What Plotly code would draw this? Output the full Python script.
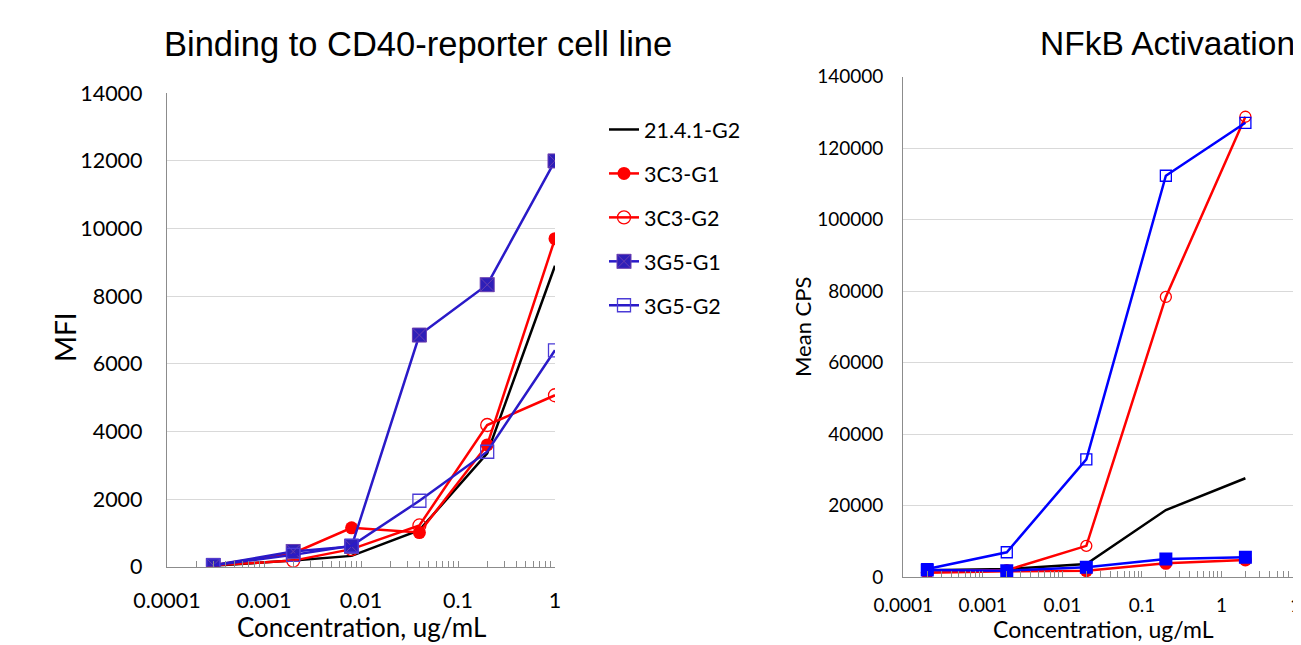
import plotly.graph_objects as go

# ---------------- data ----------------
# Left: Binding to CD40-reporter cell line (MFI)
conc_bind = [0.0003, 0.002, 0.008, 0.04, 0.2, 1]
bind_21_4_1_G2 = [30, 180, 320, 1080, 3350, 8900]
bind_3C3_G1 = [40, 400, 1150, 1010, 3600, 9700]
bind_3C3_G2 = [40, 180, 520, 1220, 4190, 5070]
bind_3G5_G1 = [40, 450, 600, 6850, 8340, 12000]
bind_3G5_G2 = [40, 350, 620, 1950, 3400, 6400]

# Right: NFkB Activaation (Mean CPS)
conc_nfkb = [0.0002, 0.002, 0.02, 0.2, 2]
nfkb_21_4_1_G2 = [2000, 2300, 3700, 18800, 27700]
nfkb_3C3_G1 = [1300, 1700, 1850, 3900, 4850]
nfkb_3C3_G2 = [2000, 2000, 8800, 78400, 128800]
nfkb_3G5_G1 = [2050, 1850, 2800, 5100, 5600]
nfkb_3G5_G2 = [2300, 7000, 33000, 112300, 127100]

series_names = ["21.4.1-G2", "3C3-G1", "3C3-G2", "3G5-G1", "3G5-G2"]

x_tickvals = [0.0001, 0.001, 0.01, 0.1, 1, 10]
x_ticktext = ["0.0001", "0.001", "0.01", "0.1", "1", "10"]
y1_tickvals = [0, 2000, 4000, 6000, 8000, 10000, 12000, 14000]
y1_ticktext = ["0", "2000", "4000", "6000", "8000", "10000", "12000", "14000"]
y2_tickvals = [0, 20000, 40000, 60000, 80000, 100000, 120000, 140000]
y2_ticktext = ["0", "20000", "40000", "60000", "80000", "100000", "120000", "140000"]

# ---------------- styles ----------------
# page body has an 8px margin: figure pixel = screen pixel - 8
W, H = 1293, 637
OFF = 8
RED = "#FF0000"
DBLUE = "#2A1AC8"
BLUE = "#0000FF"
BLACK = "#000000"
AXCOL = "#8C8C8C"
GRIDCOL = "#D9D9D9"

def px_x(sx):
    return (sx - OFF) / W

def px_y(sy):
    return (H - (sy - OFF)) / H

minor_vals = [m * 10 ** e for e in range(-4, 1) for m in range(2, 10)]

fig = go.Figure()

left_styles = [
    dict(mode="lines", line=dict(color=BLACK, width=2.5)),
    dict(mode="lines+markers", line=dict(color=RED, width=2.5),
         marker=dict(symbol="circle", size=13, color=RED)),
    dict(mode="lines+markers", line=dict(color=RED, width=2.5),
         marker=dict(symbol="circle-open", size=13, color=RED, line=dict(width=1.3))),
    dict(mode="lines+markers", line=dict(color=DBLUE, width=2.5),
         marker=dict(symbol="square-x", size=14, color="#2E1FB8",
                     line=dict(color="#6A3FB0", width=1))),
    dict(mode="lines+markers", line=dict(color=DBLUE, width=2.5),
         marker=dict(symbol="square-open", size=13, color="#4B3BD6", line=dict(width=1.3))),
]
left_data = [bind_21_4_1_G2, bind_3C3_G1, bind_3C3_G2, bind_3G5_G1, bind_3G5_G2]

for name, ys, st in zip(series_names, left_data, left_styles):
    fig.add_trace(go.Scatter(x=conc_bind, y=ys, name=name, xaxis="x", yaxis="y",
                             legendgroup=name, showlegend=True, **st))

right_styles = [
    dict(mode="lines", line=dict(color=BLACK, width=2.5)),
    dict(mode="lines+markers", line=dict(color=RED, width=2.5),
         marker=dict(symbol="circle", size=13, color=RED)),
    dict(mode="lines+markers", line=dict(color=RED, width=2.5),
         marker=dict(symbol="circle-open", size=11, color=RED, line=dict(width=1.3))),
    dict(mode="lines+markers", line=dict(color=BLUE, width=2.5),
         marker=dict(symbol="square", size=13, color=BLUE)),
    dict(mode="lines+markers", line=dict(color=BLUE, width=2.5),
         marker=dict(symbol="square-open", size=11, color=BLUE, line=dict(width=1.3))),
]
right_data = [nfkb_21_4_1_G2, nfkb_3C3_G1, nfkb_3C3_G2, nfkb_3G5_G1, nfkb_3G5_G2]
for name, ys, st in zip(series_names, right_data, right_styles):
    fig.add_trace(go.Scatter(x=conc_nfkb, y=ys, name=name, xaxis="x2", yaxis="y2",
                             legendgroup=name, showlegend=False, **st))

def xaxis(domain, rng, anchor, fsize, standoff):
    return dict(type="log", domain=domain, range=rng, anchor=anchor, automargin=False,
                showgrid=False, zeroline=False,
                showline=True, linecolor=AXCOL, linewidth=1.3,
                tickmode="array", tickvals=x_tickvals, ticktext=x_ticktext,
                ticks="inside", ticklen=6, tickcolor=AXCOL, tickwidth=1,
                tickfont=dict(family="Lato", size=fsize, color="#000000"),
                ticklabelstandoff=standoff, ticklabeloverflow="allow",
                minor=dict(tickmode="array", tickvals=minor_vals, ticks="inside",
                           ticklen=6, tickcolor=AXCOL, tickwidth=1, showgrid=False))

def yaxis(domain, rng, tv, tt, anchor, fsize, standoff):
    return dict(domain=domain, range=rng, anchor=anchor, automargin=False,
                tickmode="array", tickvals=tv, ticktext=tt,
                showgrid=True, gridcolor=GRIDCOL, gridwidth=1.3,
                zeroline=False, showline=True, linecolor=AXCOL, linewidth=1.3,
                ticks="", tickfont=dict(family="Lato", size=fsize, color="#000000"),
                ticklabelstandoff=standoff)

fig.update_layout(
    width=W, height=H,
    margin=dict(l=0, r=0, t=0, b=0, autoexpand=False),
    paper_bgcolor="white", plot_bgcolor="white",
    xaxis=xaxis([px_x(167), px_x(555)], [-4, 0], "y", 21.5, 14),
    yaxis=yaxis([px_y(566.7), px_y(93.3)], [0, 14000], y1_tickvals, y1_ticktext, "x", 21.5, 19),
    xaxis2=xaxis([px_x(903.3), 1.0], [-4, 1], "y2", 19, 11),
    yaxis2=yaxis([px_y(577.3), px_y(76.7)], [0, 140000], y2_tickvals, y2_ticktext, "x2", 19, 15),
    showlegend=True,
    legend=dict(x=px_x(604), y=px_y(109), xanchor="left", yanchor="top",
                font=dict(family="Lato", size=21.5, color="#000000"),
                traceorder="grouped", tracegroupgap=13,
                bgcolor="rgba(0,0,0,0)", borderwidth=0, itemwidth=30),
    annotations=[
        dict(text="Binding to CD40-reporter cell line", x=px_x(418), y=px_y(44),
             xref="paper", yref="paper", showarrow=False, xanchor="center", yanchor="middle",
             font=dict(family="Liberation Sans", size=34.5, color="#000000")),
        dict(text="NFkB Activaation", x=px_x(1167), y=px_y(43),
             xref="paper", yref="paper", showarrow=False, xanchor="center", yanchor="middle",
             font=dict(family="Liberation Sans", size=33.5, color="#000000")),
        dict(text="MFI", x=px_x(65), y=px_y(337), textangle=-90,
             xref="paper", yref="paper", showarrow=False, xanchor="center", yanchor="middle",
             font=dict(family="Lato", size=28, color="#000000")),
        dict(text="Mean CPS", x=px_x(802), y=px_y(327), textangle=-90,
             xref="paper", yref="paper", showarrow=False, xanchor="center", yanchor="middle",
             font=dict(family="Lato", size=22, color="#000000")),
        dict(text="Concentration, ug/mL", x=px_x(361), y=0,
             xref="paper", yref="paper", showarrow=False, xanchor="center", yanchor="bottom",
             font=dict(family="Lato", size=26, color="#000000")),
        dict(text="Concentration, ug/mL", x=px_x(1103), y=0,
             xref="paper", yref="paper", showarrow=False, xanchor="center", yanchor="bottom",
             font=dict(family="Lato", size=23, color="#000000")),
    ],
)

fig.write_html("out.html")
